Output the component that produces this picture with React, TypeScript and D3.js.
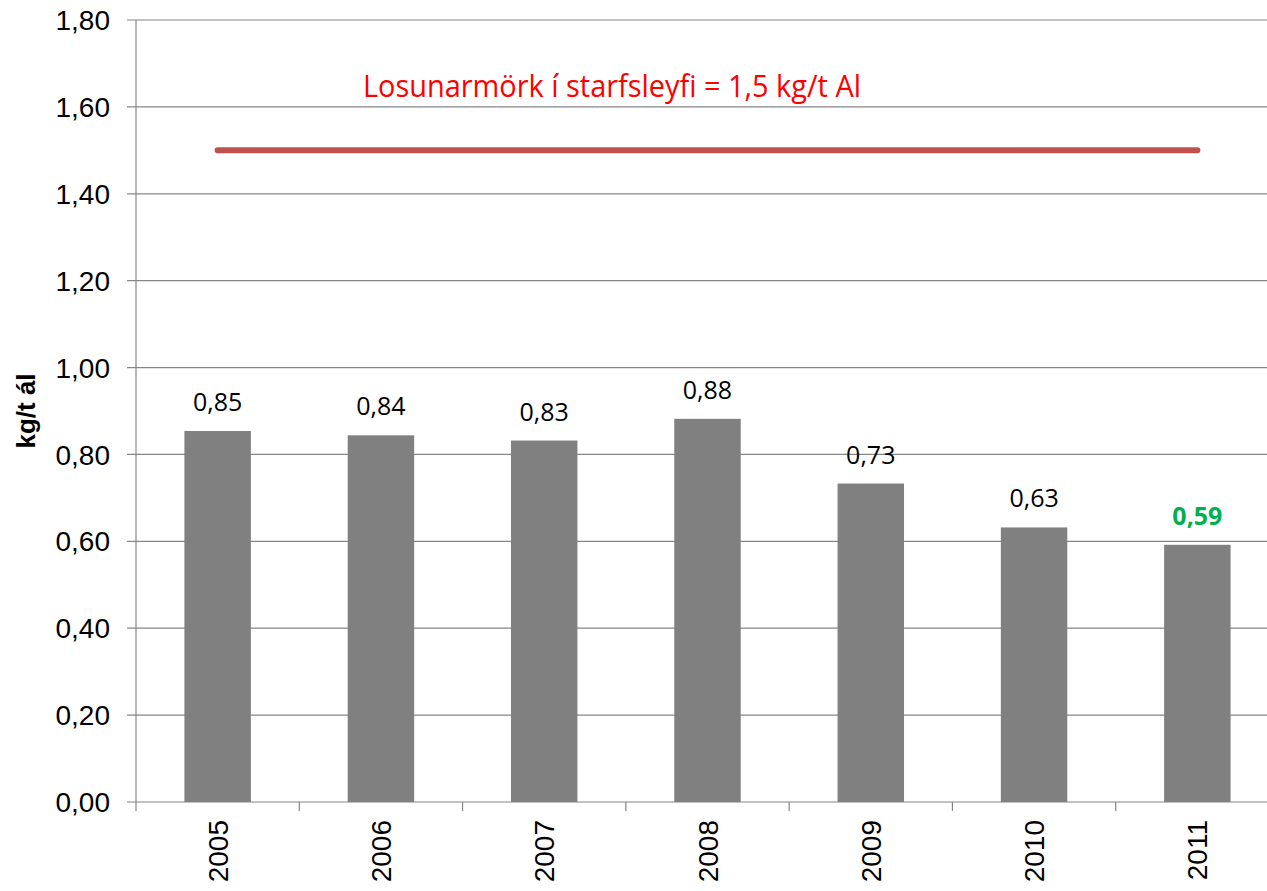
import React from "react";
import * as d3 from "d3";

const years = ["2005", "2006", "2007", "2008", "2009", "2010", "2011"];
const values = [0.854, 0.844, 0.832, 0.882, 0.733, 0.632, 0.592];
const limitValue = 1.5;
const yTicks = [0, 0.2, 0.4, 0.6, 0.8, 1.0, 1.2, 1.4, 1.6, 1.8];
const limitLabel = "Losunarmörk í starfsleyfi = 1,5 kg/t Al";
const yTitle = "kg/t ál";

const W = 1267;
const H = 891;
const M = { left: 136, top: 20, bottom: 802, right: 1279 };

export default function App() {
  const x = d3.scaleBand<string>().domain(years).range([M.left, M.right]).paddingInner(0.593).paddingOuter(0.2965);
  const xc = d3.scaleBand<string>().domain(years).range([M.left, M.right]);
  const y = d3.scaleLinear().domain([0, 1.8]).range([M.bottom, M.top]);
  const fmt = (v: number) => v.toFixed(2).replace(".", ",");
  const line = d3
    .line<string>()
    .x((d) => (xc(d) as number) + xc.bandwidth() / 2)
    .y(() => y(limitValue));
  const grid = "#868686";
  const arial = "'Liberation Sans', Arial, sans-serif";
  const calibri = "'Open Sans', 'Noto Sans', sans-serif";

  return (
    <svg width={W} height={H} style={{ position: "absolute", left: 0, top: 0, background: "#fff" }}>
      <rect x={0} y={0} width={W} height={H} fill="#fff" />
      {yTicks.map((t) => (
        <g key={t}>
          <line x1={127} x2={M.right} y1={y(t)} y2={y(t)} stroke={grid} strokeWidth={1.2} />
          <text x={110} y={y(t)} dy="0.36em" textAnchor="end" fontFamily={arial} fontSize={28} fill="#000">
            {fmt(t)}
          </text>
        </g>
      ))}
      <line x1={M.left} x2={M.left} y1={M.top} y2={M.bottom} stroke={grid} strokeWidth={1.2} />
      {years.map((yr) => (
        <line
          key={"t" + yr}
          x1={xc(yr) as number}
          x2={xc(yr) as number}
          y1={M.bottom}
          y2={M.bottom + 9}
          stroke={grid}
          strokeWidth={1.2}
        />
      ))}
      {years.map((yr, i) => (
        <rect
          key={"b" + yr}
          x={x(yr) as number}
          y={y(values[i])}
          width={x.bandwidth()}
          height={M.bottom - y(values[i])}
          fill="#808080"
        />
      ))}
      {years.map((yr, i) => {
        const last = i === years.length - 1;
        return (
          <text
            key={"l" + yr}
            x={(x(yr) as number) + x.bandwidth() / 2}
            y={y(values[i]) - 20}
            textAnchor="middle"
            fontFamily={calibri}
            fontSize={25}
            fontWeight={last ? "bold" : "normal"}
            fill={last ? "#00B050" : "#000"}
          >
            {fmt(values[i])}
          </text>
        );
      })}
      <path d={line(years) || ""} fill="none" stroke="#C0504D" strokeWidth={6} strokeLinecap="round" />
      <text x={363} y={97} fontFamily={calibri} fontSize={31} fill="#FF0000" textLength={498} lengthAdjust="spacingAndGlyphs">
        {limitLabel}
      </text>
      {years.map((yr) => {
        const cx = (xc(yr) as number) + xc.bandwidth() / 2;
        return (
          <text
            key={"x" + yr}
            transform={`translate(${cx},${820}) rotate(-90)`}
            textAnchor="end"
            dy="0.36em"
            fontFamily={arial}
            fontSize={28}
            fill="#000"
          >
            {yr}
          </text>
        );
      })}
      <text
        transform={`translate(26,${411}) rotate(-90)`}
        textAnchor="middle"
        dy="0.36em"
        fontFamily={arial}
        fontSize={26}
        fontWeight="bold"
        fill="#000"
      >
        {yTitle}
      </text>
    </svg>
  );
}
